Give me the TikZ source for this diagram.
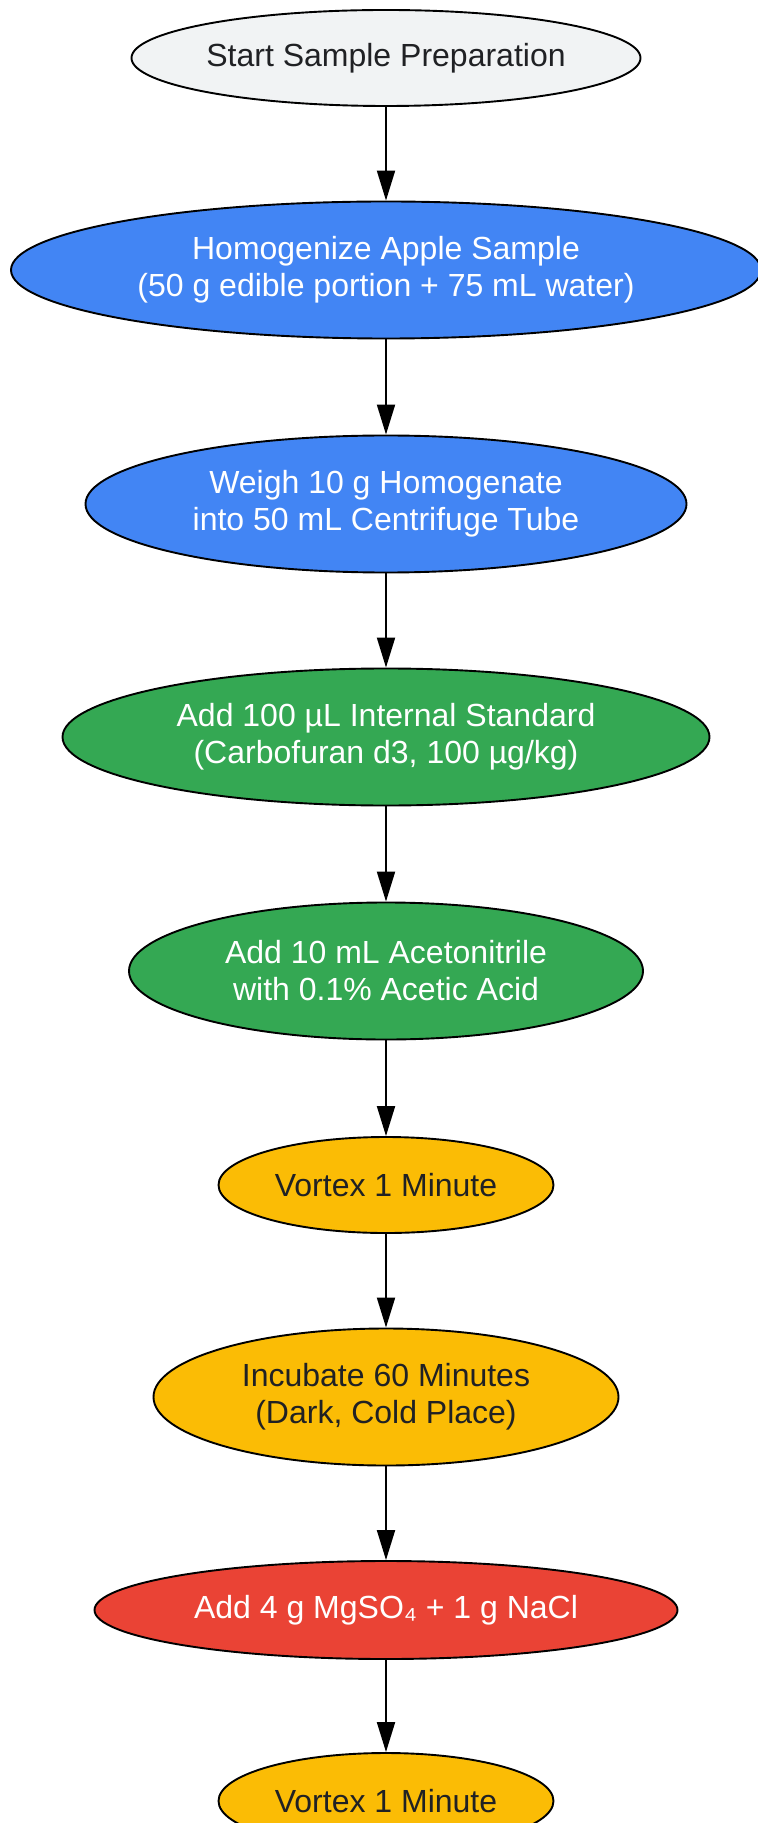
\documentclass[tikz,border=0pt]{standalone}
\usepackage{fontspec}
\setmainfont{Liberation Sans}
\usetikzlibrary{shapes.geometric,arrows.meta}
\definecolor{startgray}{HTML}{F1F3F4}
\definecolor{gblue}{HTML}{4285F4}
\definecolor{ggreen}{HTML}{34A853}
\definecolor{gyellow}{HTML}{FBBC05}
\definecolor{gred}{HTML}{EA4335}
\definecolor{darktext}{HTML}{202124}
\begin{document}
\begin{tikzpicture}[x=0.5pt,y=0.5pt,
    stepnode/.style={ellipse,draw=black,line width=0.95pt,inner sep=0pt,align=center,
      font=\fontsize{16}{18.5}\selectfont},
    darkstep/.style={stepnode,text=darktext},
    lightstep/.style={stepnode,text=white},
    flow/.style={line width=1pt,-{Triangle[length=15pt,width=9pt]}}]
  \useasboundingbox (0,0) rectangle (758,-1823);
  \node[darkstep,fill=startgray,minimum width=254.5pt,minimum height=48pt] (start) at (386,-58) {Start Sample Preparation};
  \node[lightstep,fill=gblue,minimum width=375pt,minimum height=68.5pt] (homog) at (386,-270) {Homogenize Apple Sample\\(50 g edible portion + 75 mL water)};
  \node[lightstep,fill=gblue,minimum width=300.5pt,minimum height=68.5pt] (weigh) at (386,-504) {Weigh 10 g Homogenate\\into 50 mL Centrifuge Tube};
  \node[lightstep,fill=ggreen,minimum width=323.5pt,minimum height=68.5pt] (istd) at (386,-737) {Add 100 µL Internal Standard\\(Carbofuran d3, 100 µg/kg)};
  \node[lightstep,fill=ggreen,minimum width=257pt,minimum height=68.5pt] (acn) at (386,-971) {Add 10 mL Acetonitrile\\with 0.1\% Acetic Acid};
  \node[darkstep,fill=gyellow,minimum width=167.5pt,minimum height=48pt] (vortexa) at (386,-1185) {Vortex 1 Minute};
  \node[darkstep,fill=gyellow,minimum width=232.5pt,minimum height=68.5pt] (incub) at (386,-1397) {Incubate 60 Minutes\\(Dark, Cold Place)};
  \node[lightstep,fill=gred,minimum width=291.5pt,minimum height=49pt] (salts) at (386,-1610) {Add 4 g MgSO₄ + 1 g NaCl};
  \node[darkstep,fill=gyellow,minimum width=167.5pt,minimum height=48pt] (vortexb) at (386,-1801) {Vortex 1 Minute};
  \foreach \a/\b in {start/homog,homog/weigh,weigh/istd,istd/acn,acn/vortexa,vortexa/incub,incub/salts,salts/vortexb}
    \draw[flow] (\a) -- (\b);
\end{tikzpicture}
\end{document}
